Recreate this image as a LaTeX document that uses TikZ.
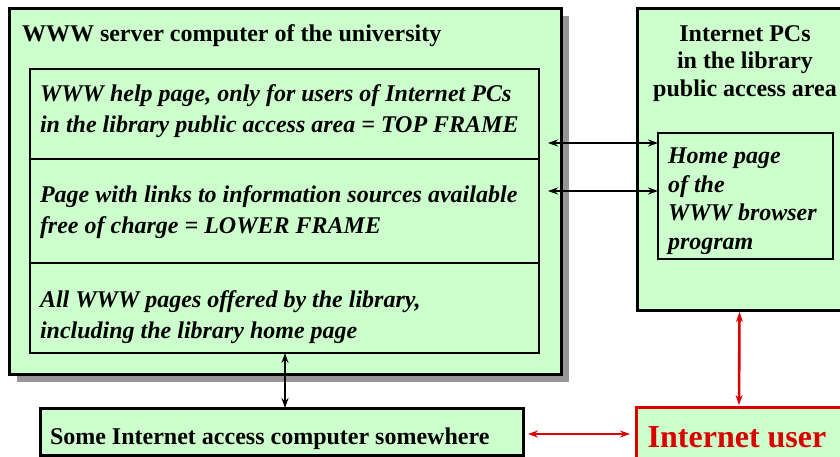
\documentclass[tikz,border=0pt]{standalone}
\usepackage{fontspec}
\setmainfont{Liberation Serif}
\usepackage{xcolor}
\usetikzlibrary{positioning,arrows.meta}
\definecolor{boxgreen}{RGB}{204,255,204}
\definecolor{userred}{RGB}{218,0,0}
\definecolor{shadowgray}{RGB}{150,150,150}

\begin{document}
\begin{tikzpicture}[x=1pt,y=-1pt,
    every node/.style={inner sep=0pt,outer sep=0pt},
    frame/.style={draw,line width=3pt,fill=boxgreen},
    panel/.style={draw,line width=1.2pt,fill=boxgreen},
    txt/.style={font=\fontsize{24}{31}\selectfont\bfseries,align=left},
    itxt/.style={font=\fontsize{24}{31}\selectfont\bfseries\itshape,align=left},
    link/.style={line width=2.6pt,{Stealth[length=10pt,width=7pt]}-{Stealth[length=10pt,width=7pt]}},
    redlink/.style={link,draw=userred}]
    \useasboundingbox (0,0) rectangle (840,456);
    % server with its pages
    \fill[shadowgray] (17,16) rectangle (569,382);
    \node[frame,minimum width=552pt,minimum height=366pt,anchor=north west] (server) at (9,8) {};
    \node[txt,anchor=base west] (srvtitle) at (22,41) {WWW server computer of the university};
    \node[panel,minimum width=509pt,minimum height=90pt,anchor=north west] (top) at (30,69) {};
    \node[panel,minimum width=509pt,minimum height=104pt,anchor=north] (mid) at (top.south) {};
    \node[panel,minimum width=509pt,minimum height=90pt,anchor=north] (low) at (mid.south) {};
    % multi-line nodes: base is the last line
    \node[itxt,anchor=base west] (toptxt) at (40,132) {WWW help page, only for users of Internet PCs\\in the library public access area = TOP FRAME};
    \node[itxt,anchor=base west] (midtxt) at (40,233) {Page with links to information sources available\\free of charge = LOWER FRAME};
    \node[itxt,anchor=base west] (lowtxt) at (40,338) {All WWW pages offered by the library,\\including the library home page};
    % PCs in the library
    \node[frame,minimum width=205pt,minimum height=302pt,anchor=north west] (pcs) at (637,8) {};
    \node[txt,font=\fontsize{24}{27.5}\selectfont\bfseries,align=center,anchor=base] (pcstitle) at (745,96) {Internet PCs\\in the library\\public access area};
    \node[panel,minimum width=175pt,minimum height=126pt,anchor=north west] (home) at (658,133) {};
    \node[itxt,font=\fontsize{24}{28.5}\selectfont\bfseries\itshape,anchor=base west] (hometxt) at (668,249) {Home page\\of the\\WWW browser\\program};
    % outside
    \node[frame,minimum width=483pt,minimum height=47pt,anchor=north west] (access) at (40,408) {};
    \node[txt,anchor=base west] (accesstxt) at (50,444) {Some Internet access computer somewhere};
    \node[frame,draw=userred,minimum width=206pt,minimum height=60pt,anchor=north west] (user) at (636,407) {};
    \node[font=\fontsize{32}{36}\selectfont\bfseries,text=userred,anchor=base] (usertxt) at (737,447) {Internet user};
    % connections
    \coordinate (t1) at (548,143);
    \coordinate (t2) at (548,191);
    \draw[link] (t1) -- (t1 -| home.west);
    \draw[link] (t2) -- (t2 -| home.west);
    \draw[link] (low.south -| 285,0) -- (access.north -| 285,0);
    \draw[redlink,shorten >=2pt,shorten <=2pt] (pcs.south) -- (user.north);
    \draw[redlink,shorten >=6pt,shorten <=5pt] (access.east |- 0,434) -- (user.west |- 0,434);
\end{tikzpicture}
\end{document}
